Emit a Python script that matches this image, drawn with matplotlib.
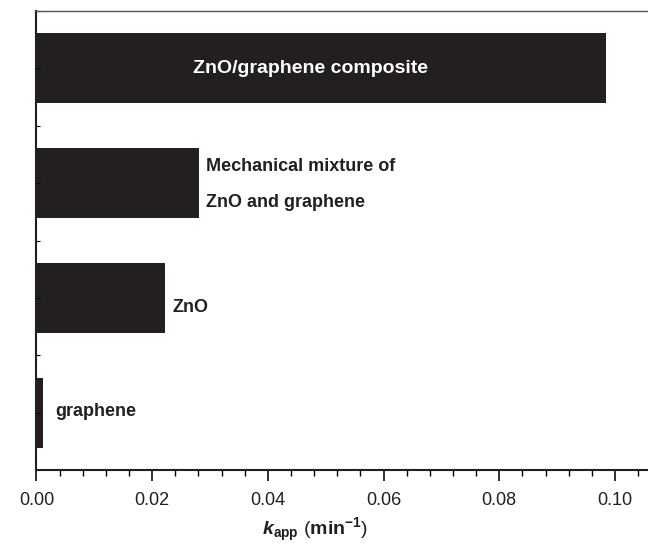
import matplotlib
matplotlib.use("Agg")
import matplotlib.pyplot as plt
from matplotlib.ticker import MultipleLocator

plt.rcParams['font.family'] = ['Liberation Sans', 'DejaVu Sans']
plt.rcParams['mathtext.fontset'] = 'custom'
plt.rcParams['mathtext.rm'] = 'Liberation Sans'
plt.rcParams['mathtext.bf'] = 'Liberation Sans:bold'
plt.rcParams['mathtext.it'] = 'Liberation Sans:italic'
plt.rcParams['mathtext.bfit'] = 'Liberation Sans:bold:italic'

# data (bottom to top)
samples = ["graphene", "ZnO", "Mechanical mixture of\nZnO and graphene", "ZnO/graphene composite"]
k_app = [0.0011, 0.0223, 0.0281, 0.0985]
positions = [1, 2, 3, 4]

dark = '#231f20'
W, H = 648, 546
fig = plt.figure(figsize=(W/100, H/100), dpi=100)
ax = fig.add_axes([36.4/W, (H-470)/H, 636.5/W, 459/H])

ax.barh(positions, k_app, height=0.61, color=dark, edgecolor='none')
ax.set_xlim(0, 0.11)
ax.set_ylim(0.5, 4.5)

ax.xaxis.set_major_locator(MultipleLocator(0.02))
ax.xaxis.set_minor_locator(MultipleLocator(0.004))
ax.yaxis.set_major_locator(MultipleLocator(0.5))
ax.set_yticklabels([])
ax.xaxis.set_major_formatter(matplotlib.ticker.FormatStrFormatter('%.2f'))
ax.tick_params(axis='x', which='major', direction='out', length=8, width=1.3,
               labelsize=13, pad=8, colors=dark, top=False)
ax.tick_params(axis='x', which='minor', direction='out', length=4, width=1.0, top=False)
ax.tick_params(axis='y', which='major', direction='in', length=3, width=0.8, left=True)
for s in ['left', 'bottom']:
    ax.spines[s].set_linewidth(1.5)
    ax.spines[s].set_color(dark)
ax.spines['top'].set_linewidth(1.0)
ax.spines['top'].set_color('#555555')
ax.spines['right'].set_visible(False)

# labels
ax.text(0.0474, 4, samples[3], color='white', fontsize=14, fontweight='bold',
        ha='center', va='center')
ax.annotate(samples[2], (k_app[2], 3), xytext=(5, -1), textcoords='offset points',
            fontsize=13, fontweight='bold', color=dark, ha='left', va='center',
            linespacing=2.4)
ax.annotate(samples[1], (k_app[1], 2), xytext=(5, -7), textcoords='offset points',
            fontsize=13, fontweight='bold', color=dark, ha='left', va='center')
ax.annotate(samples[0], (k_app[0], 1), xytext=(9, 1), textcoords='offset points',
            fontsize=13, fontweight='bold', color=dark, ha='left', va='center')

fig.text(315/W, 2/H, r'$\mathbfit{k}_{\mathbf{app}}$ ($\mathbf{min}^{\mathbf{-1}}$)',
         fontsize=14, ha='center', va='bottom', color=dark)

fig.savefig('out.png', dpi=100)
